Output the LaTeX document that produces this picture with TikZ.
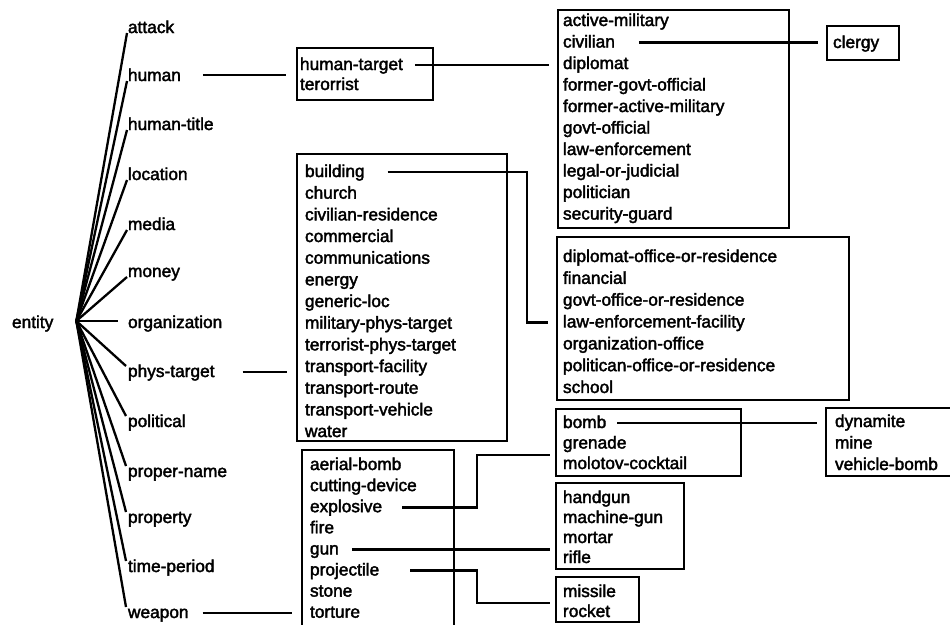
\documentclass[tikz,border=0pt]{standalone}
\usepackage{fontspec}
\newfontfamily\diagfamily{Liberation Sans}[RawFeature={embolden=2.2}]
\newcommand\diagfont{\diagfamily\fontsize{17.3pt}{21pt}\selectfont}
\begin{document}
\begin{tikzpicture}[x=1pt,y=-1pt,
  txt/.style={anchor=base west,inner sep=0pt,outer sep=0pt,font=\diagfont},
  boxst/.style={draw,line width=2.6pt,anchor=north west,inner sep=0pt,outer sep=0pt},
  fan/.style={line width=2.3pt},
  conn/.style={line width=2.6pt}]
\useasboundingbox (0,0) rectangle (950,624);
\clip (0,0) rectangle (950,624);

% root
\node[txt] (entity) at (12,328) {entity};
\coordinate (hub) at ([shift={(23pt,7pt)}]entity.base east);

\foreach \n/\t/\y in {attack/attack/33, human/human/81, htitle/human-title/130, location/location/180, media/media/230, money/money/277}{
  \node[txt] (\n) at (128,\y) {\t};
  \draw[fan] (hub) -- ([xshift=-1pt]\n.base west);
}
\node[txt] (org) at (128,328) {organization};
\draw[fan,shorten >=10pt] (hub) -- (hub -| org.west);
\foreach \n/\t/\y in {phys/phys-target/377, political/political/427, proper/proper-name/477, property/property/523, timep/time-period/572, weapon/weapon/618}{
  \node[txt] (\n) at (128,\y) {\t};
  \draw[fan] (hub) -- ([shift={(-2pt,11pt)}]\n.base west);
}

% boxes
\node[boxst,minimum width=136pt,minimum height=52pt] (htbox) at (297,48) {};
\node[boxst,minimum width=231pt,minimum height=218pt] (hbox) at (558,10) {};
\node[boxst,minimum width=72pt,minimum height=34pt] (clergybox) at (827,26) {};
\node[boxst,minimum width=210pt,minimum height=287pt] (pbox) at (297,154) {};
\node[boxst,minimum width=292pt,minimum height=163pt] (dipbox) at (557,237) {};
\node[boxst,minimum width=185pt,minimum height=67pt] (bombbox) at (556,409) {};
\node[boxst,minimum width=140pt,minimum height=68pt] (dynbox) at (826,408) {};
\node[boxst,minimum width=152pt,minimum height=200pt] (wbox) at (302,450) {};
\node[boxst,minimum width=128pt,minimum height=86pt] (hgbox) at (556,483) {};
\node[boxst,minimum width=83pt,minimum height=45pt] (misbox) at (556,577) {};

% items
\node[txt] (htarget) at (300,70) {human-target};
\node[txt] (terorrist) at (300,90) {terorrist};
\foreach \n/\t [count=\i from 0] in {hactive/active-military, hcivilian/civilian, hdiplomat/diplomat, hfgo/former-govt-official, hfam/former-active-military, hgo/govt-official, hle/law-enforcement, hlj/legal-or-judicial, hpol/politician, hsg/security-guard}
  \node[txt] (\n) at (563,{26+21.5*\i}) {\t};
\node[txt] (clergy) at (833,48) {clergy};
\foreach \n/\t [count=\i from 0] in {pbuilding/building, pchurch/church, pcivres/civilian-residence, pcomm/commercial, pcomms/communications, penergy/energy, pgen/generic-loc, pmil/military-phys-target, pterr/terrorist-phys-target, ptf/transport-facility, ptr/transport-route, ptv/transport-vehicle, pwater/water}
  \node[txt] (\n) at (305,{177+21.67*\i}) {\t};
\foreach \n/\t [count=\i from 0] in {ddip/diplomat-office-or-residence, dfin/financial, dgov/govt-office-or-residence, dlef/law-enforcement-facility, dorg/organization-office, dpol/politican-office-or-residence, dschool/school}
  \node[txt] (\n) at (563,{262+21.83*\i}) {\t};
\foreach \n/\t [count=\i from 0] in {bbomb/bomb, bgrenade/grenade, bmolotov/molotov-cocktail}
  \node[txt] (\n) at (563,{428+20.5*\i}) {\t};
\foreach \n/\t [count=\i from 0] in {ddyn/dynamite, dmine/mine, dvb/vehicle-bomb}
  \node[txt] (\n) at (835,{427+21.5*\i}) {\t};
\foreach \n/\t [count=\i from 0] in {waerial/aerial-bomb, wcut/cutting-device, wexplosive/explosive, wfire/fire, wgun/gun, wprojectile/projectile, wstone/stone, wtorture/torture}
  \node[txt] (\n) at (310,{470+21.1*\i}) {\t};
\foreach \n/\t [count=\i from 0] in {ghand/handgun, gmg/machine-gun, gmortar/mortar, grifle/rifle}
  \node[txt] (\n) at (563,{503+20*\i}) {\t};
\node[txt] (missile) at (563,597) {missile};
\node[txt] (rocket) at (563,617) {rocket};

% connectors
\coordinate (humanout) at ([shift={(22pt,6pt)}]human.base east);
\draw[conn,shorten >=11pt] (humanout) -- (humanout -| htbox.west);
\coordinate (htout) at ([shift={(12pt,5pt)}]htarget.base east);
\draw[conn,shorten >=9pt] (htout) -- (htout -| hbox.west);
\coordinate (civout) at ([shift={(24pt,5pt)}]hcivilian.base east);
\draw[conn,shorten >=9pt] (civout) -- (civout -| clergybox.west);
\coordinate (physout) at ([shift={(28pt,5pt)}]phys.base east);
\draw[conn,shorten >=10pt] (physout) -- (physout -| pbox.west);
\coordinate (bldout) at ([shift={(23pt,5pt)}]pbuilding.base east);
\coordinate (lefin) at ([yshift=5pt]dlef.base west);
\draw[conn,shorten >=9pt] (bldout) -- (bldout -| 527,0) -- (lefin -| 527,0) -- (lefin -| dipbox.west);
\coordinate (wout) at ([shift={(14pt,5pt)}]weapon.base east);
\draw[conn,shorten >=10pt] (wout) -- (wout -| wbox.west);
\coordinate (exout) at ([shift={(20pt,5pt)}]wexplosive.base east);
\draw[conn,shorten >=6pt] (exout) -- (exout -| 477,0) -- (477,455) -- (bombbox.west |- 0,455);
\coordinate (gunout) at ([shift={(13pt,5pt)}]wgun.base east);
\draw[conn,shorten >=6pt] (gunout) -- (gunout -| hgbox.west);
\coordinate (prout) at ([shift={(31pt,5pt)}]wprojectile.base east);
\draw[conn,shorten >=6pt] (prout) -- (prout -| 477,0) -- (477,603) -- (misbox.west |- 0,603);
\coordinate (bombout) at ([shift={(11pt,5pt)}]bbomb.base east);
\draw[conn,shorten >=9pt] (bombout) -- (bombout -| dynbox.west);
\end{tikzpicture}
\end{document}
